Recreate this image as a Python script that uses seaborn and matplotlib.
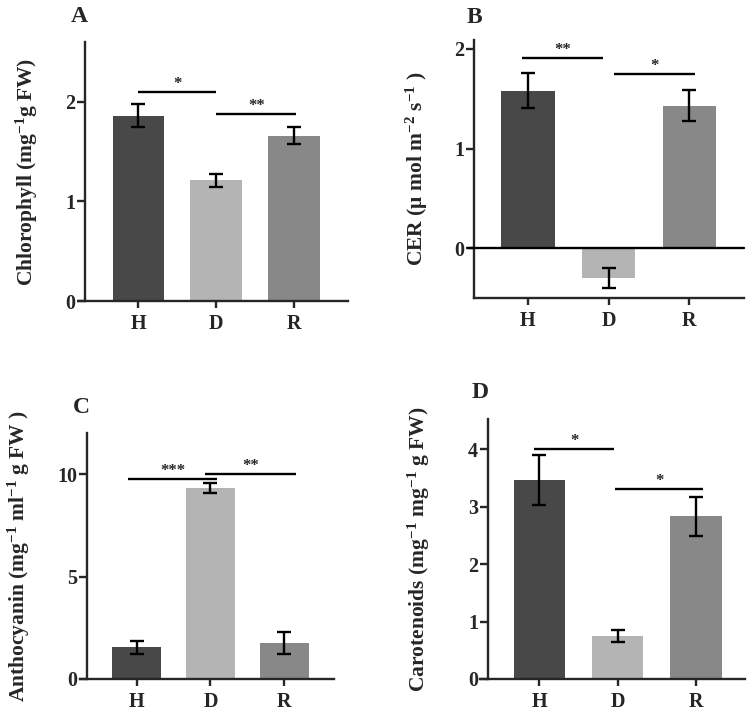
import numpy as np
import pandas as pd
import matplotlib
matplotlib.use("Agg")
import matplotlib.pyplot as plt
import seaborn as sns

sns.set_style("ticks")
plt.rcParams['font.family'] = ['Liberation Serif', 'DejaVu Serif']
plt.rcParams['font.weight'] = 'bold'
plt.rcParams['mathtext.fontset'] = 'custom'
plt.rcParams['mathtext.rm'] = 'Liberation Serif:bold'
plt.rcParams['mathtext.it'] = 'Liberation Serif:bold'
plt.rcParams['mathtext.bf'] = 'Liberation Serif:bold'
plt.rcParams['mathtext.default'] = 'rm'

groups = ["H", "D", "R"]
colors = ["#484848", "#b4b4b4", "#888888"]

chl_mean = [1.86, 1.21, 1.66]
chl_se = [0.115, 0.07, 0.085]
cer_mean = [1.58, -0.30, 1.43]
cer_se = [0.175, 0.10, 0.155]
ant_mean = [1.55, 9.32, 1.75]
ant_se = [0.32, 0.23, 0.53]
car_mean = [3.46, 0.75, 2.83]
car_se = [0.44, 0.11, 0.335]

chl_sig = [("*", -0.0, 1.0, 2.10), ("**", 1.0, 2.03, 1.88)]
cer_sig = [("**", -0.07, 0.93, 1.91), ("*", 1.07, 2.07, 1.75)]
ant_sig = [("***", -0.12, 1.09, 9.75), ("**", 0.93, 2.16, 10.0)]
car_sig = [("*", -0.07, 0.96, 4.01), ("*", 0.97, 2.09, 3.30)]

fig = plt.figure(figsize=(7.49, 7.16), dpi=100)

panels = [
    dict(letter="A", mean=chl_mean, se=chl_se, sig=chl_sig,
         rect=[0.1055, 0.5796, 0.359, 0.3617], ylim=(0, 2.6), yticks=[0, 1, 2],
         xlim=(-0.76, 2.69), spine_x=-0.68, ylab=r"Chlorophyll (mg$^{-1}$g FW)",
         labx=-0.145, letter_xy=(71, 22)),
    dict(letter="B", mean=cer_mean, se=cer_se, sig=cer_sig,
         rect=[0.6328, 0.5834, 0.3605, 0.3608], ylim=(-0.5, 2.09), yticks=[0, 1, 2],
         xlim=(-0.67, 2.68), spine_x=None, ylab=r"CER ($\mu$ mol m$^{-2}$ s$^{-1}$ )",
         labx=-0.163, letter_xy=(467, 23)),
    dict(letter="C", mean=ant_mean, se=ant_se, sig=ant_sig,
         rect=[0.1068, 0.0517, 0.3391, 0.3432], ylim=(0, 12), yticks=[0, 5, 10],
         xlim=(-0.77, 2.675), spine_x=-0.67, ylab=r"Anthocyanin (mg$^{-1}$ ml$^{-1}$ g FW )",
         labx=-0.19, letter_xy=(73, 413)),
    dict(letter="D", mean=car_mean, se=car_se, sig=car_sig,
         rect=[0.6409, 0.0517, 0.3538, 0.3627], ylim=(0, 4.52), yticks=[0, 1, 2, 3, 4],
         xlim=(-0.76, 2.63), spine_x=-0.66, ylab=r"Carotenoids (mg$^{-1}$ mg$^{-1}$ g FW)",
         labx=-0.18, letter_xy=(472, 398)),
]

LW = 1.7
for p in panels:
    ax = fig.add_axes(p["rect"])
    df = pd.DataFrame({"group": groups, "value": p["mean"]})
    sns.barplot(data=df, x="group", y="value", hue="group", palette=colors,
                saturation=1, width=0.66, errorbar=None, legend=False,
                linewidth=0, ax=ax)
    ax.errorbar(np.arange(3), p["mean"], yerr=p["se"], fmt="none", ecolor="black",
                elinewidth=LW, capsize=5, capthick=LW, zorder=5)
    for lab, x0, x1, y in p["sig"]:
        ax.plot([x0, x1], [y, y], color="black", lw=LW, solid_capstyle="butt")
        ax.text((x0 + x1) / 2, y, lab, ha="center", va="bottom",
                fontsize=12, fontweight="bold")
    ax.set_xlim(*p["xlim"])
    ax.set_ylim(*p["ylim"])
    ax.set_yticks(p["yticks"])
    ax.set_yticklabels([str(t) for t in p["yticks"]])
    ax.set_xlabel("")
    ax.set_ylabel(p["ylab"], fontsize=15.5, fontweight="bold")
    ax.yaxis.set_label_coords(p["labx"], 0.5)
    for s in ["top", "right"]:
        ax.spines[s].set_visible(False)
    for s in ["left", "bottom"]:
        ax.spines[s].set_linewidth(LW)
    if p["spine_x"] is not None:
        ax.spines["left"].set_position(("data", p["spine_x"]))
    else:
        ax.axhline(0, xmin=-0.022, xmax=1.0, color="black", lw=LW, clip_on=False, zorder=6)
    ax.tick_params(axis="x", direction="out", width=LW, length=4.8, labelsize=14.5, pad=4.5)
    ax.tick_params(axis="y", direction="out", width=LW, length=5.5, labelsize=14.5, pad=1.5)
    for t in ax.get_xticklabels() + ax.get_yticklabels():
        t.set_fontweight("bold")
    fx, fy = p["letter_xy"]
    fig.text(fx / 749, 1 - fy / 716, p["letter"], fontsize=17, fontweight="bold",
             ha="left", va="baseline")

fig.savefig("out.png", dpi=100)
